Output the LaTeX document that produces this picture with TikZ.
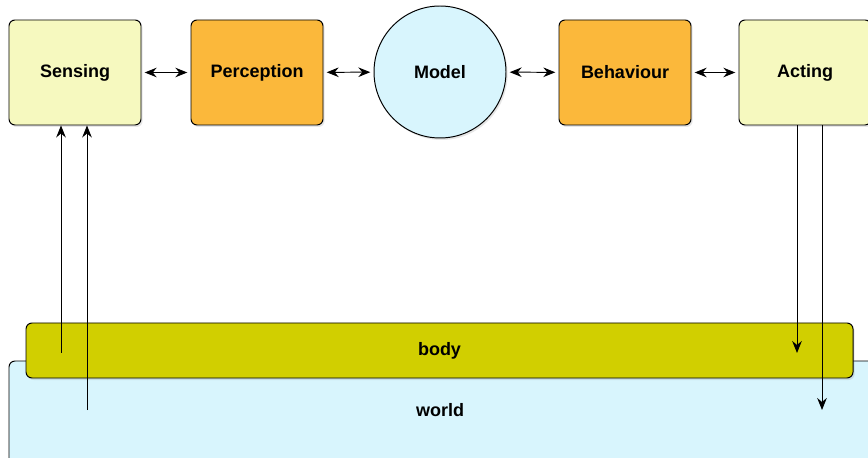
\documentclass[tikz,border=0pt]{standalone}
\usepackage{fontspec}
\setmainfont{Liberation Sans}
\usetikzlibrary{arrows.meta,shadows}
\definecolor{paleyellow}{HTML}{F6F9BF}
\definecolor{orangebox}{HTML}{FBB83B}
\definecolor{paleblue}{HTML}{D8F5FD}
\definecolor{olive}{HTML}{D1CF00}
\begin{document}
\begin{tikzpicture}[
  every node/.style={font=\bfseries\fontsize{12.8}{15}\selectfont},
  box/.style={draw, line width=0.7pt, rounded corners=0.15cm, minimum width=3.3cm,
    minimum height=2.625cm, drop shadow={opacity=0.2, shadow xshift=0.04cm, shadow yshift=-0.05cm}},
  band/.style={draw, line width=0.7pt, rounded corners=0.15cm,
    drop shadow={opacity=0.2, shadow xshift=0.04cm, shadow yshift=-0.05cm}},
  link/.style={{Stealth[length=0.3cm,width=0.24cm,inset=0.1cm]}-{Stealth[length=0.3cm,width=0.24cm,inset=0.1cm]},
    line width=0.7pt, shorten <=0.08cm, shorten >=0.08cm},
  flow/.style={-{Stealth[length=0.3cm,width=0.24cm,inset=0.1cm]}, line width=0.7pt}]
  \useasboundingbox (0,0) rectangle (21.7,11.425);
  % world and body
  \node [band, fill=paleblue, minimum width=21.775cm, minimum height=2.75cm] (world) at (11.1125,1.025) {};
  \node at (11.0,1.175) {world};
  \node [band, fill=olive, minimum width=20.675cm, minimum height=1.375cm] (body) at (10.9875,2.6625) {body};
  % top row
  \node [box, fill=paleyellow] (sensing) at (1.875,9.6125) {Sensing};
  \node [box, fill=orangebox] (perception) at (6.425,9.6125) {Perception};
  \node [draw, circle, line width=0.7pt, fill=paleblue, minimum size=3.3cm,
    drop shadow={opacity=0.2, shadow xshift=0.04cm, shadow yshift=-0.05cm}] (model) at (11.0,9.625) {Model};
  \node [box, fill=orangebox] (behaviour) at (15.625,9.6125) {Behaviour};
  \node [box, fill=paleyellow] (acting) at (20.125,9.6125) {Acting};
  \draw [link] (sensing) -- (perception);
  \draw [link] (perception) -- (model);
  \draw [link] (model) -- (behaviour);
  \draw [link] (behaviour) -- (acting);
  % sensors and actuators
  \coordinate (s1) at (1.525,2.6);
  \coordinate (s2) at (2.175,1.175);
  \coordinate (a1) at (19.925,2.6);
  \coordinate (a2) at (20.55,1.175);
  \draw [flow] (s1) -- (s1 |- sensing.south);
  \draw [flow] (s2) -- (s2 |- sensing.south);
  \draw [flow] (a1 |- acting.south) -- (a1);
  \draw [flow] (a2 |- acting.south) -- (a2);
\end{tikzpicture}
\end{document}
